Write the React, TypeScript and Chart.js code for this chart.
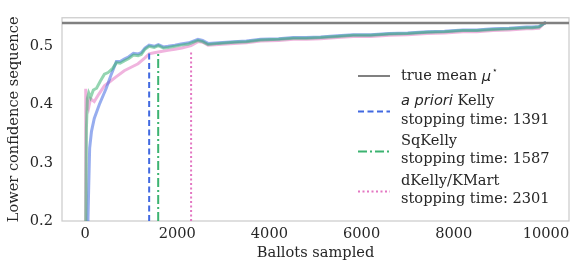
import React, { useEffect, useRef } from "react";
import { Chart, registerables } from "chart.js";

Chart.register(...registerables);

// ---------- data ----------
const meanValue = 0.54;
const stoppingTimes = [1391, 1587, 2301];
const stopLineTop = 0.491;
const xTicks = [0, 2000, 4000, 6000, 8000, 10000];
const yTicks = [0.2, 0.3, 0.4, 0.5];
const xRange = [-500, 10500];
const yRange = [0.2, 0.549];

const kellyX = [0, 60, 80, 100, 140, 200, 310, 460, 560, 680, 760, 850, 950, 1050, 1150, 1220, 1300, 1390, 1500, 1590, 1700, 1800, 1950, 2080, 2250, 2450, 2550, 2670, 2900, 3230, 3500, 3810, 4200, 4520, 4800, 5110, 5470, 5820, 6200, 6600, 7000, 7420, 7800, 8200, 8500, 8850, 9200, 9580, 9700, 9850, 9970, 10000];
const kellyY = [0, 0.19, 0.26, 0.325, 0.354, 0.376, 0.4, 0.428, 0.45, 0.474, 0.474, 0.478, 0.482, 0.488, 0.487, 0.489, 0.497, 0.502, 0.5, 0.503, 0.499, 0.5, 0.502, 0.504, 0.506, 0.512, 0.51, 0.505, 0.506, 0.508, 0.509, 0.512, 0.513, 0.515, 0.515, 0.516, 0.518, 0.52, 0.52, 0.522, 0.523, 0.525, 0.526, 0.528, 0.528, 0.53, 0.531, 0.533, 0.533, 0.534, 0.54, 0.54];

const sqKellyX = [0, 30, 50, 80, 120, 180, 250, 330, 420, 500, 600, 680, 760, 850, 950, 1050, 1150, 1220, 1300, 1390, 1500, 1590, 1700, 1800, 1950, 2080, 2250, 2450, 2550, 2670, 2900, 3230, 3500, 3810, 4200, 4520, 4800, 5110, 5470, 5820, 6200, 6600, 7000, 7420, 7800, 8200, 8500, 8850, 9200, 9580, 9700, 9850, 9970, 10000];
const sqKellyY = [0, 0.36, 0.41, 0.42, 0.412, 0.425, 0.428, 0.44, 0.452, 0.455, 0.462, 0.472, 0.471, 0.475, 0.479, 0.485, 0.484, 0.486, 0.495, 0.5, 0.498, 0.501, 0.497, 0.498, 0.5, 0.502, 0.504, 0.51, 0.508, 0.503, 0.505, 0.507, 0.508, 0.511, 0.512, 0.514, 0.514, 0.515, 0.517, 0.519, 0.519, 0.521, 0.522, 0.524, 0.525, 0.527, 0.527, 0.529, 0.53, 0.532, 0.532, 0.533, 0.54, 0.54];

const dKellyX = [0, 10, 20, 35, 50, 80, 120, 200, 300, 420, 550, 680, 850, 1000, 1150, 1300, 1390, 1500, 1650, 1800, 1950, 2100, 2300, 2450, 2550, 2670, 2900, 3230, 3500, 3810, 4200, 4520, 4800, 5110, 5470, 5820, 6200, 6600, 7000, 7420, 7800, 8200, 8500, 8850, 9200, 9580, 9700, 9850, 9970, 10000];
const dKellyY = [0, 0.38, 0.427, 0.39, 0.405, 0.395, 0.41, 0.405, 0.418, 0.432, 0.44, 0.448, 0.458, 0.464, 0.47, 0.48, 0.487, 0.489, 0.491, 0.493, 0.495, 0.497, 0.501, 0.508, 0.507, 0.502, 0.503, 0.505, 0.506, 0.509, 0.51, 0.512, 0.512, 0.513, 0.515, 0.517, 0.517, 0.519, 0.52, 0.522, 0.523, 0.525, 0.525, 0.527, 0.528, 0.53, 0.53, 0.531, 0.54, 0.54];

const seriesNames = ["a priori Kelly", "SqKelly", "dKelly/KMart"];
const meanLabel = "true mean μ⋆";

const BLUE = "#4169e1";
const GREEN = "#3cb371";
const PINK = "#e377c2";
const TEXT = "#262626";
const SERIF = "'DejaVu Serif', serif";
const SANS = "'DejaVu Sans', sans-serif";
const FS = 14.6;

const pts = (xs: number[], ys: number[]) => xs.map((x, i) => ({ x, y: ys[i] }));

const framePlugin = {
  id: "frame",
  beforeDatasetsDraw(chart: any) {
    const { ctx, chartArea: a } = chart;
    ctx.save();
    ctx.strokeStyle = "#cccccc";
    ctx.lineWidth = 1.25;
    ctx.strokeRect(a.left, a.top, a.right - a.left, a.bottom - a.top);
    ctx.restore();
  },
};

const legendPlugin = {
  id: "customLegend",
  afterDraw(chart: any) {
    const { ctx } = chart;
    const hx0 = 358, hx1 = 390, tx = 401;
    ctx.save();
    ctx.textBaseline = "middle";
    ctx.textAlign = "left";
    ctx.fillStyle = TEXT;
    const line = (y: number, color: string, dash: number[]) => {
      ctx.save();
      ctx.strokeStyle = color;
      ctx.lineWidth = 2;
      ctx.setLineDash(dash);
      ctx.beginPath();
      ctx.moveTo(hx0, y);
      ctx.lineTo(hx1, y);
      ctx.stroke();
      ctx.restore();
    };
    // entry 1: true mean
    line(76, "#808080", []);
    ctx.font = `${FS}px ${SERIF}`;
    ctx.fillText("true mean ", tx, 76);
    let w = ctx.measureText("true mean ").width;
    ctx.font = `italic ${FS}px ${SANS}`;
    ctx.fillText("μ", tx + w, 77);
    w += ctx.measureText("μ").width + 1;
    ctx.font = `9px ${SANS}`;
    ctx.fillText("⋆", tx + w, 71);

    // entry 2
    line(111.5, BLUE, [6, 3.5]);
    ctx.font = `italic ${FS}px ${SANS}`;
    ctx.fillText("a priori", tx, 101.5);
    w = ctx.measureText("a priori").width;
    ctx.font = `${FS}px ${SERIF}`;
    ctx.fillText(" Kelly", tx + w, 101.5);
    ctx.fillText("stopping time: " + stoppingTimes[0], tx, 120);

    // entry 3
    line(151.5, GREEN, [9, 3, 2, 3]);
    ctx.fillText(seriesNames[1], tx, 141.5);
    ctx.fillText("stopping time: " + stoppingTimes[1], tx, 159.5);

    // entry 4
    line(191.5, PINK, [2, 2.5]);
    ctx.fillText(seriesNames[2], tx, 181.5);
    ctx.fillText("stopping time: " + stoppingTimes[2], tx, 199.5);
    ctx.restore();
  },
};

export default function App() {
  const ref = useRef<HTMLCanvasElement | null>(null);
  useEffect(() => {
    if (!ref.current) return;
    const vline = (x: number, color: string, dash: number[], label: string) => ({
      label,
      data: [
        { x, y: yRange[0] },
        { x, y: stopLineTop },
      ],
      borderColor: color,
      borderWidth: 2,
      borderDash: dash,
      pointRadius: 0,
      fill: false,
    });
    const chart = new Chart(ref.current, {
      type: "line",
      data: {
        datasets: [
          {
            label: meanLabel,
            data: [
              { x: xRange[0], y: meanValue },
              { x: xRange[1], y: meanValue },
            ],
            borderColor: "#808080",
            borderWidth: 2.5,
            pointRadius: 0,
          },
          vline(stoppingTimes[0], BLUE, [6, 3.5], "stop Kelly"),
          vline(stoppingTimes[1], GREEN, [9, 3, 2, 3], "stop SqKelly"),
          vline(stoppingTimes[2], PINK, [2, 2.5], "stop dKelly"),
          {
            label: seriesNames[1],
            data: pts(sqKellyX, sqKellyY),
            borderColor: "rgba(60,179,113,0.55)",
            borderWidth: 3,
            pointRadius: 0,
          },
          {
            label: seriesNames[0],
            data: pts(kellyX, kellyY),
            borderColor: "rgba(65,105,225,0.55)",
            borderWidth: 3,
            pointRadius: 0,
          },
          {
            label: seriesNames[2],
            data: pts(dKellyX, dKellyY),
            borderColor: "rgba(227,119,194,0.55)",
            borderWidth: 3,
            pointRadius: 0,
          },
        ],
      },
      options: {
        animation: false,
        responsive: false,
        maintainAspectRatio: false,
        layout: { padding: { left: 0, right: 12, top: 15, bottom: 0 } },
        plugins: { legend: { display: false }, tooltip: { enabled: false } },
        elements: { line: { tension: 0 } },
        scales: {
          x: {
            type: "linear",
            min: xRange[0],
            max: xRange[1],
            afterBuildTicks: (s: any) => {
              s.ticks = xTicks.map((v) => ({ value: v }));
            },
            afterFit: (s: any) => {
              s.height = 52;
            },
            grid: { display: false, drawTicks: false },
            border: { display: false },
            ticks: {
              padding: 4,
              color: TEXT,
              maxRotation: 0,
              autoSkip: false,
              font: { size: FS, family: SERIF },
              callback: (v: any) => String(v),
            },
            title: {
              display: true,
              text: "Ballots sampled",
              color: TEXT,
              font: { size: FS, family: SERIF },
              padding: { top: 0, bottom: 11 },
            },
          },
          y: {
            type: "linear",
            min: yRange[0],
            max: yRange[1],
            afterBuildTicks: (s: any) => {
              s.ticks = yTicks.map((v) => ({ value: v }));
            },
            afterFit: (s: any) => {
              s.width = 62;
            },
            grid: { display: false, drawTicks: false },
            border: { display: false },
            ticks: {
              padding: 9,
              color: TEXT,
              font: { size: FS, family: SERIF },
              callback: (v: any) => Number(v).toFixed(1),
            },
            title: {
              display: true,
              text: "Lower confidence sequence",
              color: TEXT,
              font: { size: FS, family: SERIF },
              padding: { top: 5, bottom: 0 },
            },
          },
        },
      },
      plugins: [framePlugin, legendPlugin],
    });
    return () => chart.destroy();
  }, []);

  return (
    <div style={{ position: "absolute", left: 0, top: 0, width: 581, height: 273 }}>
      <canvas ref={ref} width={581} height={273} style={{ width: 581, height: 273, display: "block" }} />
    </div>
  );
}
